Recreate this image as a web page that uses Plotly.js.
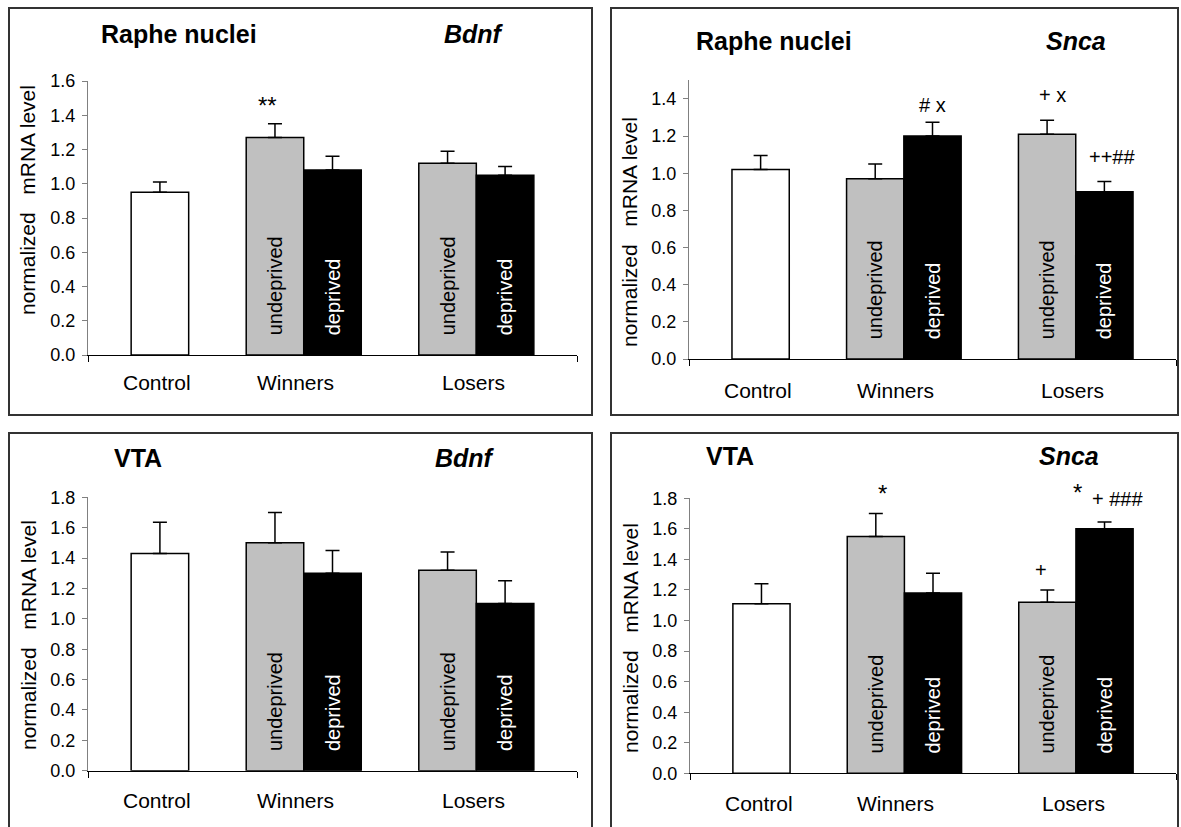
<!DOCTYPE html>
<html>
<head>
<meta charset="utf-8">
<script src="https://cdn.plot.ly/plotly-3.0.1.min.js"></script>
<style>html,body{margin:0;padding:0;background:#fff;}#chart{width:1181px;height:827px;}</style>
</head>
<body>
<div id="chart"></div>
<script>
// ---------------- DATA ----------------
const categories = ['Control', 'Winners', 'Losers'];
const conditions = ['undeprived', 'deprived'];
const panelRegions = ['Raphe nuclei', 'Raphe nuclei', 'VTA', 'VTA'];
const panelGenes = ['Bdnf', 'Snca', 'Bdnf', 'Snca'];
const yAxisTitle = 'normalized\u00a0\u00a0\u00a0mRNA level';
const yMax = [1.6, 1.5, 1.8, 1.8];
const controlMean = [0.95, 1.02, 1.43, 1.11];
const controlSem = [0.06, 0.075, 0.205, 0.13];
const undeprivedMean = [[1.27, 1.12], [0.97, 1.21], [1.50, 1.32], [1.55, 1.12]];
const undeprivedSem = [[0.08, 0.07], [0.08, 0.075], [0.20, 0.12], [0.15, 0.08]];
const deprivedMean = [[1.08, 1.05], [1.20, 0.90], [1.30, 1.10], [1.18, 1.60]];
const deprivedSem = [[0.08, 0.05], [0.075, 0.055], [0.15, 0.15], [0.13, 0.045]];
const sigMarks = [
  [{label: '**', group: 'Winners', cond: 'undeprived'}],
  [{label: '# x', group: 'Winners', cond: 'deprived'},
   {label: '+ x', group: 'Losers', cond: 'undeprived'},
   {label: '++##', group: 'Losers', cond: 'deprived'}],
  [],
  [{label: '*', group: 'Winners', cond: 'undeprived'},
   {label: '+', group: 'Losers', cond: 'undeprived'},
   {label: '*', group: 'Losers', cond: 'deprived'},
   {label: '+ ###', group: 'Losers', cond: 'deprived'}]
];

// ---------------- LAYOUT / STYLE ----------------
const W = 1181, H = 827;
const PX = v => v / W;
const PY = v => 1 - v / H;
const FONT = 'Arial, "Liberation Sans", sans-serif';
// panel geometry in pixels
const panelGeom = [
  {x0: 88, x1: 577, yb: 355, yt: 81, box: [9, 8, 592, 415], title: [99, 43], gene: [442, 43], ytitle: [27, 200], cat: 382},
  {x0: 689, x1: 1176, yb: 359, yt: 80.4, box: [611, 8, 1178, 415], title: [694, 50], gene: [1044, 50], ytitle: [630, 232], cat: 390},
  {x0: 88, x1: 577, yb: 770.7, yt: 497.3, box: [9, 433, 592, 860], title: [112, 467], gene: [433, 467], ytitle: [28, 635], cat: 800},
  {x0: 690, x1: 1176, yb: 773.3, yt: 498.3, box: [611, 433, 1178, 860], title: [704, 465], gene: [1037, 465], ytitle: [630, 638], cat: 803}
];
const xRange = [-1.25, 7.25];
const groupCenter = {Control: 0, Winners: 2.5, Losers: 5.5};
const condOffset = {undeprived: -0.5, deprived: 0.5};
const catLabelPos = {Control: -0.05, Winners: 2.35, Losers: 5.45};
const condFill = {undeprived: '#c0c0c0', deprived: '#000000'};
const condText = {undeprived: '#000000', deprived: '#ffffff'};
// significance mark offsets (slot units, px above error cap)
const sigOffsets = [
  [[-0.13, 18]],
  [[0.0, 17], [0.1, 25], [0.13, 25]],
  [],
  [[0.12, 20], [-0.11, 20], [-0.47, 29], [0.23, 23]]
];

const traces = [];
const annotations = [];
const shapes = [];
const layout = {
  width: W, height: H,
  margin: {l: 0, r: 0, t: 0, b: 0},
  paper_bgcolor: '#ffffff', plot_bgcolor: '#ffffff',
  showlegend: false,
  barmode: 'overlay',
  font: {family: FONT, color: '#000'}
};

panelGeom.forEach((g, i) => {
  const k = i + 1;
  const xa = 'x' + (k === 1 ? '' : k), ya = 'y' + (k === 1 ? '' : k);
  const xKey = 'xaxis' + (k === 1 ? '' : k), yKey = 'yaxis' + (k === 1 ? '' : k);
  layout[xKey] = {
    domain: [PX(g.x0), PX(g.x1)], range: xRange, anchor: ya,
    showgrid: false, zeroline: false, showline: true, linecolor: '#000', linewidth: 1,
    ticks: 'outside', tickmode: 'array', tickvals: xRange, ticklen: 6, tickcolor: '#000', tickwidth: 1,
    showticklabels: false, fixedrange: true
  };
  layout[yKey] = {
    domain: [PY(g.yb), PY(g.yt)], range: [0, yMax[i]], anchor: xa,
    tick0: 0, dtick: 0.2, tickformat: '.1f',
    showgrid: false, zeroline: false, showline: true, linecolor: '#808080', linewidth: 1,
    ticks: 'outside', ticklen: 5, tickcolor: '#808080', tickwidth: 1,
    ticklabelstandoff: 3,
    tickfont: {family: FONT, size: 18, color: '#000'}, fixedrange: true
  };
  // control bar
  traces.push({
    type: 'bar', xaxis: xa, yaxis: ya,
    x: [groupCenter[categories[0]]], y: [controlMean[i]], width: 1,
    marker: {color: '#ffffff', line: {color: '#000', width: 1.5}},
    error_y: {type: 'data', symmetric: false, array: [controlSem[i]], arrayminus: [0], color: '#000', thickness: 1.5, width: 7},
    hoverinfo: 'skip'
  });
  const groups = categories.slice(1);
  conditions.forEach(cond => {
    const means = cond === 'undeprived' ? undeprivedMean[i] : deprivedMean[i];
    const sems = cond === 'undeprived' ? undeprivedSem[i] : deprivedSem[i];
    traces.push({
      type: 'bar', xaxis: xa, yaxis: ya,
      x: groups.map(gr => groupCenter[gr] + condOffset[cond]), y: means, width: 1,
      text: groups.map(() => cond),
      texttemplate: '\u00a0\u00a0\u00a0%{text}',
      textposition: 'inside', insidetextanchor: 'start', textangle: -90,
      constraintext: 'none',
      insidetextfont: {family: FONT, size: 20, color: condText[cond]},
      marker: {color: condFill[cond], line: {color: '#000', width: 1.5}},
      error_y: {type: 'data', symmetric: false, array: sems, arrayminus: sems.map(() => 0), color: '#000', thickness: 1.5, width: 7},
      hoverinfo: 'skip'
    });
  });
  // category labels
  categories.forEach(c => annotations.push({
    xref: xa, yref: 'paper', x: catLabelPos[c], y: PY(g.cat),
    text: c, showarrow: false, xanchor: 'center', yanchor: 'middle',
    font: {family: FONT, size: 21, color: '#000'}
  }));
  // titles
  annotations.push({xref: 'paper', yref: 'paper', x: PX(g.title[0]), y: PY(g.title[1] - 9),
    text: '<b>' + panelRegions[i] + '</b>', showarrow: false, xanchor: 'left', yanchor: 'middle',
    font: {family: FONT, size: 25, color: '#000'}});
  annotations.push({xref: 'paper', yref: 'paper', x: PX(g.gene[0]), y: PY(g.gene[1] - 9),
    text: '<b><i>' + panelGenes[i] + '</i></b>', showarrow: false, xanchor: 'left', yanchor: 'middle',
    font: {family: FONT, size: 25, color: '#000'}});
  // y title
  annotations.push({xref: 'paper', yref: 'paper', x: PX(g.ytitle[0]), y: PY(g.ytitle[1]),
    text: yAxisTitle, showarrow: false, textangle: -90, xanchor: 'center', yanchor: 'middle',
    font: {family: FONT, size: 21, color: '#000'}});
  // significance marks
  sigMarks[i].forEach((m, j) => {
    const gi = categories.indexOf(m.group) - 1;
    const mean = (m.cond === 'undeprived' ? undeprivedMean[i] : deprivedMean[i])[gi];
    const sem = (m.cond === 'undeprived' ? undeprivedSem[i] : deprivedSem[i])[gi];
    const off = sigOffsets[i][j];
    annotations.push({xref: xa, yref: ya,
      x: groupCenter[m.group] + condOffset[m.cond] + off[0], y: mean + sem, yshift: off[1],
      text: m.label, showarrow: false, xanchor: 'center', yanchor: 'middle',
      font: {family: FONT, size: m.label.indexOf('*') >= 0 ? 24 : 20, color: '#000'}});
  });
  // panel frame
  shapes.push({type: 'rect', xref: 'paper', yref: 'paper',
    x0: PX(g.box[0]), x1: PX(g.box[2]), y0: PY(g.box[3]), y1: PY(g.box[1]),
    line: {color: '#333', width: 2}, fillcolor: 'rgba(0,0,0,0)', layer: 'below'});
});
layout.annotations = annotations;
layout.shapes = shapes;
Plotly.newPlot('chart', traces, layout, {staticPlot: true, displayModeBar: false});
</script>
</body>
</html>
